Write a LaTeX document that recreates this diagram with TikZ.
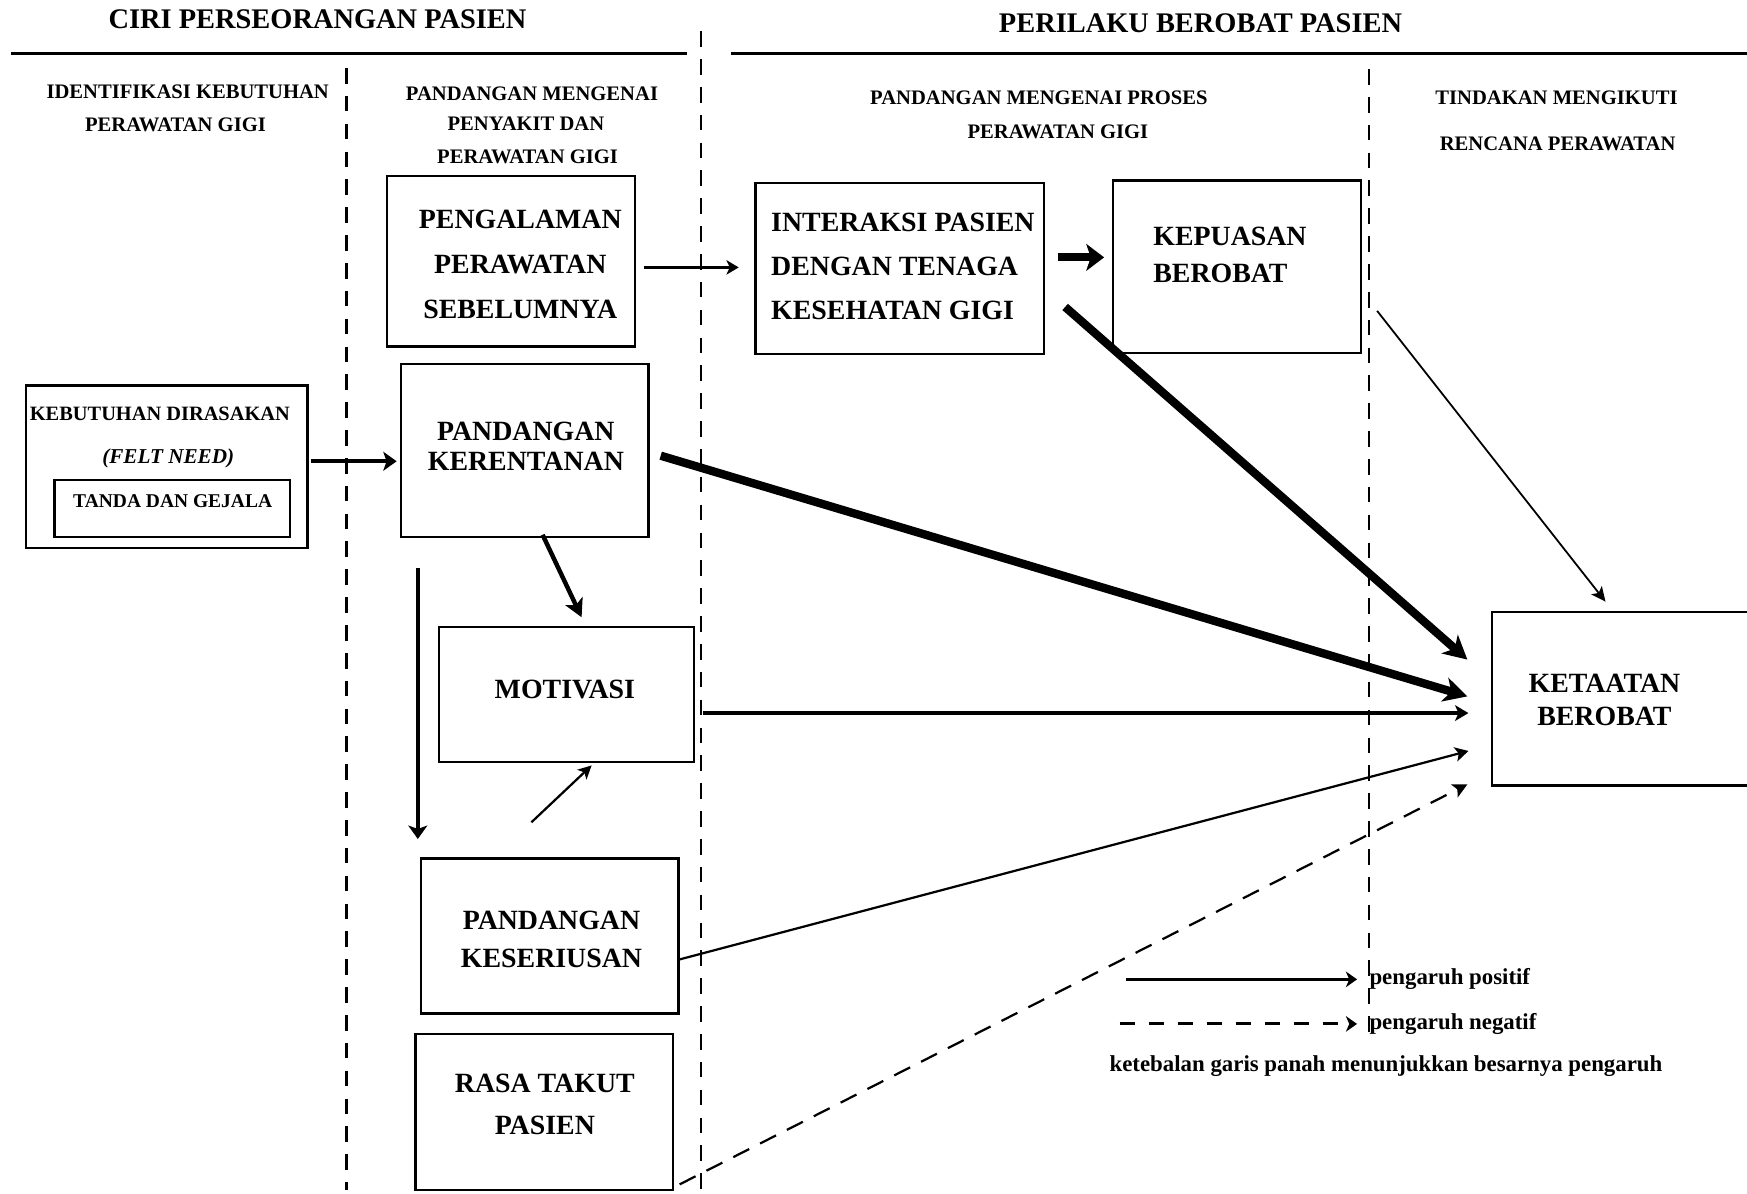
\documentclass[tikz,border=0pt]{standalone}
\usepackage{fontspec}
\setmainfont{Liberation Serif}
\usetikzlibrary{arrows.meta,calc}
\newcommand\fsz[2]{\fontsize{#1}{#2}\selectfont}
\begin{document}
\begin{tikzpicture}[x=1pt,y=-1pt,
  hdr/.style={font=\bfseries\fsz{25.5}{30},inner sep=0pt},
  sub/.style={font=\bfseries\fsz{18.5}{22},inner sep=0pt},
  box/.style={draw,line width=2pt,inner sep=0pt,rectangle},
  btxt/.style={font=\bfseries\fsz{25}{#1},align=center,inner sep=0pt},
  btxt/.default=40,
  divider/.style={line width=2pt,dash pattern=on 14pt off 11pt},
  rulebar/.style={line width=2pt},
  link/.style={line width=#1},
  legtxt/.style={font=\bfseries\fsz{20.5}{24},inner sep=0pt}
]
\fill[white] (0,0) rectangle (1568,1071);
\useasboundingbox (0,0) rectangle (1568,1071);

% ---- column headings and rules
\node[hdr] (h1) at (285,17.5) {CIRI PERSEORANGAN PASIEN};
\node[hdr] (h2) at (1077.5,21) {PERILAKU BEROBAT PASIEN};
\draw[rulebar] (10,48) -- (617,48);
\draw[rulebar] (656,48) -- (1568,48);

% ---- dashed column dividers
\draw[divider] (311,61) -- (311,1068);
\draw[divider] (629,28) -- (629,1071);
\draw[divider] (1229,62) -- (1229,934);

% ---- sub headings
\node[sub] (s1a) at (168.5,82) {IDENTIFIKASI KEBUTUHAN};
\node[sub] (s1b) at (157.5,112) {PERAWATAN GIGI};
\node[sub] (s2a) at (477.5,84) {PANDANGAN MENGENAI};
\node[sub] (s2b) at (472,111) {PENYAKIT DAN};
\node[sub] (s2c) at (473.5,141) {PERAWATAN GIGI};
\node[sub] (s3a) at (932.5,88) {PANDANGAN MENGENAI PROSES};
\node[sub] (s3b) at (949.5,118) {PERAWATAN GIGI};
\node[sub] (s4a) at (1397,88) {TINDAKAN MENGIKUTI};
\node[sub] (s4b) at (1398,129) {RENCANA PERAWATAN};

% ---- boxes
\node[box,minimum width=223pt,minimum height=153pt] (peng) at (458.5,234.5) {};
\node[btxt=40.5] (peng-t) at (467,237) {PENGALAMAN\\PERAWATAN\\SEBELUMNYA};

\node[box,minimum width=259pt,minimum height=153.5pt] (inter) at (807.5,241.25) {};
\node[btxt=39.5,align=left,anchor=west] (inter-t) at (692,238.7) {INTERAKSI PASIEN\\DENGAN TENAGA\\KESEHATAN GIGI};

\node[box,minimum width=222.5pt,minimum height=154.6pt] (kepu) at (1110.25,239.3) {};
\node[btxt=33.5,align=left,anchor=west] (kepu-t) at (1035,229) {KEPUASAN\\BEROBAT};

\node[box,minimum width=253pt,minimum height=146pt] (kebut) at (149.5,419) {};
\node[font=\bfseries\fsz{18.3}{22},inner sep=0pt] (kebut-t) at (143.5,371) {KEBUTUHAN DIRASAKAN};
\node[font=\bfseries\itshape\fsz{19}{22},inner sep=0pt] (felt) at (151,411) {(FELT NEED)};
\node[box,minimum width=211pt,minimum height=51pt] (tanda) at (154.5,456.5) {};
\node[font=\bfseries\fsz{17.5}{20},inner sep=0pt] (tanda-t) at (155,450) {TANDA DAN GEJALA};

\node[box,minimum width=222pt,minimum height=155.4pt] (keren) at (471,404.3) {};
\node[btxt=27] (keren-t) at (472,400.5) {PANDANGAN\\KERENTANAN};

\node[box,minimum width=229pt,minimum height=121pt] (motiv) at (508.5,623.5) {};
\node[btxt] (motiv-t) at (507,619) {MOTIVASI};

\node[box,minimum width=231pt,minimum height=139.2pt] (serius) at (493.5,840.1) {};
\node[btxt=34] (serius-t) at (495,843) {PANDANGAN\\KESERIUSAN};

\node[box,minimum width=231pt,minimum height=140pt] (takut) at (488.5,998) {};
\node[btxt=37.5] (takut-t) at (489,991) {RASA TAKUT\\PASIEN};

\node[box,minimum width=241pt,minimum height=156pt] (taat) at (1459.5,627) {};
\node[btxt=30] (taat-t) at (1440,628) {KETAATAN\\BEROBAT};

% ---- influences
\draw[link=2.2pt,-{Stealth[length=11pt,width=13pt,inset=3pt]}]
  ($(peng.east)+(7,5.5)$) -- ($(inter.west)+(-14,-1.25)$);
\draw[link=7pt,-{Stealth[length=16pt,width=24pt,inset=4pt]}]
  ($(inter.east)+(12,-10.25)$) -- ($(kepu.west)+(-7,-8.3)$);
\draw[link=4pt,-{Stealth[length=12pt,width=17pt,inset=3pt]}]
  ($(kebut.east)+(2,-5)$) -- ($(keren.west)+(-3,9.7)$);
\draw[link=7.5pt,-{Stealth[length=21pt,width=22pt,inset=6pt]}]
  ($(keren.east)+(10,4.7)$) -- ($(taat.west)+(-21,-2)$);
\draw[link=7.5pt,-{Stealth[length=21pt,width=22pt,inset=6pt]}]
  ($(inter.east)+(18,34.25)$) -- ($(taat.west)+(-21,-35)$);
\draw[link=1.6pt,-{Stealth[length=13pt,width=12pt,inset=3pt]}]
  ($(kepu.east)+(13.5,39.7)$) -- ($(taat.north west)+(103,-8)$);
\draw[link=3pt,-{Stealth[length=12pt,width=14pt,inset=3pt]}]
  ($(motiv.east)+(7,16.5)$) -- ($(taat.west)+(-20,13)$);
\draw[link=4pt,-{Stealth[length=16pt,width=17pt,inset=4pt]}]
  ($(keren.south)+(16,-3)$) -- ($(motiv.north)+(13.5,-8)$);
\draw[link=4pt,-{Stealth[length=12pt,width=17pt,inset=3pt]}]
  ($(keren.south west)+(16,27)$) -- ($(serius.north west)+(-2,-16.5)$);
\draw[link=2pt,-{Stealth[length=12pt,width=12pt,inset=3pt]}]
  ($(serius.north)+(-16.5,-31.5)$) -- ($(motiv.south)+(22.5,2)$);
\draw[link=2pt,-{Stealth[length=12pt,width=13pt,inset=3pt]}]
  ($(serius.east)+(0,21)$) -- ($(taat.west)+(-20,47)$);
\draw[link=2pt,dash pattern=on 16pt off 11pt,-{Stealth[length=13pt,width=13pt,inset=3pt]}]
  ($(takut.south east)+(5,-6)$) -- ($(taat.south west)+(-21,-2)$);

% ---- legend
\coordinate (pos-a) at (1011,879);
\coordinate (pos-b) at (1218,879);
\coordinate (neg-a) at (1005,919);
\coordinate (neg-b) at (1218,919);
\draw[link=2.6pt,-{Stealth[length=10pt,width=14pt,inset=3pt]}] (pos-a) -- (pos-b);
\draw[link=2.6pt,dash pattern=on 14pt off 12pt,-{Stealth[length=10pt,width=14pt,inset=3pt]}] (neg-a) -- (neg-b);
\node[legtxt,anchor=base west] (pos-t) at (1229,884) {pengaruh positif};
\node[legtxt,anchor=base west] (neg-t) at (1229,924) {pengaruh negatif};
\node[legtxt,anchor=base] (leg-note) at (1244,962) {ketebalan garis panah menunjukkan besarnya pengaruh};
\end{tikzpicture}
\end{document}
